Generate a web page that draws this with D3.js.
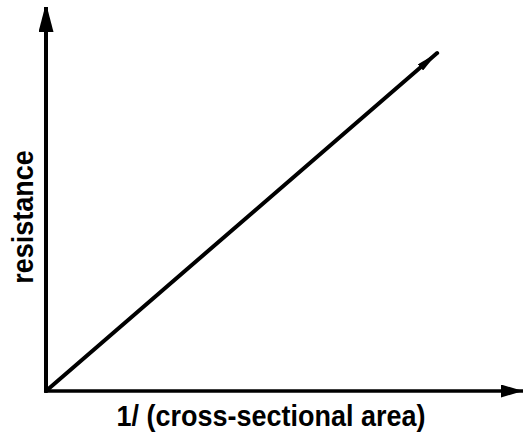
<!DOCTYPE html>
<html>
<head>
<meta charset="utf-8">
<script src="https://cdn.jsdelivr.net/npm/d3@7/dist/d3.min.js"></script>
<style>
  html, body { margin: 0; padding: 0; background: #fff; }
  svg { display: block; }
  text { font-family: "Liberation Sans", Arial, Helvetica, sans-serif; font-weight: bold; fill: #000; }
</style>
</head>
<body>
<script>
// Resistance grows in proportion to 1 / (cross-sectional area)
const inverseArea = [0, 8.2];
const resistance = [0, 8.8];
const axisMax = [10, 10];          // [x, y] extent of each axis (axes end in arrows)
const xTitle = "1/ (cross-sectional area)";
const yTitle = "resistance";

const W = 525, H = 439;
const margin = { top: 7, right: 2, bottom: 48, left: 46 };

const svg = d3.select("body").append("svg")
  .attr("width", W).attr("height", H);

const x = d3.scaleLinear().domain([0, axisMax[0]]).range([margin.left, W - margin.right]);
const y = d3.scaleLinear().domain([0, axisMax[1]]).range([H - margin.bottom, margin.top]);

// arrowheads
const defs = svg.append("defs");
defs.append("marker")
  .attr("id", "xHead")
  .attr("viewBox", "0 0 22 13")
  .attr("refX", 22).attr("refY", 6.5)
  .attr("markerUnits", "userSpaceOnUse")
  .attr("markerWidth", 22).attr("markerHeight", 13)
  .attr("orient", "auto")
  .append("path").attr("d", "M0,0 L22,6.5 L0,13 Z").attr("fill", "#000");
defs.append("marker")
  .attr("id", "yHead")
  .attr("viewBox", "0 0 25 15")
  .attr("refX", 25).attr("refY", 7.5)
  .attr("markerUnits", "userSpaceOnUse")
  .attr("markerWidth", 25).attr("markerHeight", 15)
  .attr("orient", "auto")
  .append("path").attr("d", "M0,0 L23,6 Q25,7.5 23,9 L0,15 Z").attr("fill", "#000");
defs.append("marker")
  .attr("id", "lineHead")
  .attr("viewBox", "0 0 22 8")
  .attr("refX", 22).attr("refY", 4)
  .attr("markerUnits", "userSpaceOnUse")
  .attr("markerWidth", 22).attr("markerHeight", 8)
  .attr("orient", "auto")
  .append("path").attr("d", "M0,0 L22,4 L0,8 Z").attr("fill", "#000");

// axes
svg.append("line")
  .attr("x1", x(0) - 2).attr("y1", y(0))
  .attr("x2", x(axisMax[0])).attr("y2", y(0))
  .attr("stroke", "#000").attr("stroke-width", 3.5)
  .attr("marker-end", "url(#xHead)");
svg.append("line")
  .attr("x1", x(0)).attr("y1", y(0) + 1.5)
  .attr("x2", x(0)).attr("y2", y(axisMax[1]))
  .attr("stroke", "#000").attr("stroke-width", 4)
  .attr("marker-end", "url(#yHead)");

// data line
const pts = inverseArea.map((v, i) => [v, resistance[i]]);
svg.append("path")
  .datum(pts)
  .attr("d", d3.line().x(d => x(d[0])).y(d => y(d[1])))
  .attr("fill", "none")
  .attr("stroke", "#000").attr("stroke-width", 4)
  .attr("stroke-linecap", "round")
  .attr("marker-end", "url(#lineHead)");

// titles (glyphs slightly taller than the stock face)
svg.append("text")
  .attr("transform", "translate(271,426) scale(1,1.12)")
  .attr("text-anchor", "middle")
  .attr("font-size", 27)
  .text(xTitle);
svg.append("text")
  .attr("transform", "translate(33,217) rotate(-90) scale(1,1.1)")
  .attr("text-anchor", "middle")
  .attr("font-size", 27)
  .text(yTitle);
</script>
</body>
</html>
